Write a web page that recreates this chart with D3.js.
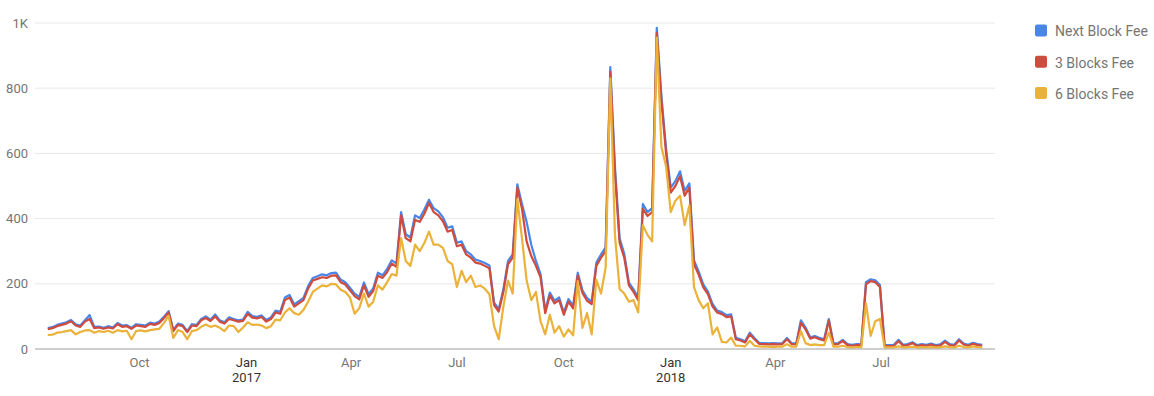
<!DOCTYPE html>
<html>
<head>
<meta charset="utf-8">
<script src="https://cdn.jsdelivr.net/npm/d3@7"></script>
<style>
  html, body { margin: 0; padding: 0; background: #fff; }
  svg { display: block; font-family: Roboto, "Liberation Sans", Arial, sans-serif; }
</style>
</head>
<body>
<svg id="chart" width="1154" height="396"></svg>
<script>
// ---- data (sampled every 4 days from 2016-07-14) ----
const startDate = "2016-07-14";
const stepDays = 4;

const nextBlockFee = [64,67,74,78,82,89,76,72,88,104,
 68,69,65,70,66,80,72,73,65,76,
 74,72,81,78,84,99,116,58,78,74,
 55,76,74,92,100,90,106,88,82,97,
 92,88,90,114,101,99,103,89,97,118,
 114,158,166,137,147,157,193,218,223,229,
 226,233,234,213,205,188,170,160,204,168,
 186,234,226,246,272,262,420,352,342,410,
 402,428,458,432,422,404,372,376,326,330,
 300,290,274,270,264,256,142,122,183,270,
 290,505,445,390,320,270,230,118,173,148,
 158,112,153,132,234,180,156,145,265,290,
 312,865,560,340,292,204,183,158,445,420,
 432,985,775,615,495,515,545,485,508,272,
 238,198,176,138,118,113,104,106,34,30,
 24,50,34,19,18,17,18,17,18,34,
 18,17,88,66,36,40,34,30,92,17,
 18,28,15,13,15,15,205,214,211,196,
 13,12,13,28,13,15,21,12,15,13,
 17,12,14,26,15,13,30,17,13,19,
 15,13];

const threeBlocksFee = [61,64,70,74,78,85,72,68,84,92,
 64,66,62,66,63,76,68,70,62,72,
 70,68,77,74,80,95,112,55,74,70,
 52,72,70,88,95,86,100,84,78,92,
 88,84,86,108,96,94,98,84,92,112,
 108,150,158,130,140,150,185,210,215,220,
 218,225,226,205,198,180,162,152,195,160,
 178,225,218,236,262,252,410,340,330,396,
 390,415,448,420,410,392,360,365,315,320,
 290,280,265,262,255,248,135,115,175,260,
 280,495,430,330,285,255,220,110,165,140,
 150,105,145,125,225,172,148,138,255,280,
 300,850,540,326,280,195,175,150,430,408,
 420,970,760,600,480,500,530,470,495,260,
 228,189,168,130,112,107,98,100,30,26,
 20,45,30,16,15,14,15,14,15,30,
 15,14,80,60,32,36,30,26,87,14,
 15,25,12,10,12,12,198,208,205,190,
 10,9,10,24,10,12,18,9,12,10,
 14,9,11,22,12,10,26,14,10,16,
 12,10];

const sixBlocksFee = [43,44,50,52,55,58,45,52,57,58,
 50,55,52,56,50,58,54,56,30,55,
 57,54,58,60,62,80,102,34,58,52,
 30,55,58,68,75,68,72,65,55,72,
 70,52,66,82,74,75,72,64,70,90,
 88,112,125,110,105,120,145,175,185,195,
 192,200,198,182,175,158,108,125,170,130,
 145,195,182,205,230,225,340,270,255,320,
 300,325,360,320,320,310,270,260,190,240,
 205,225,190,195,185,168,70,30,130,210,
 170,460,340,210,150,175,85,45,105,50,
 70,38,60,42,208,65,110,45,212,170,
 250,830,350,184,170,145,150,112,380,350,
 330,955,620,560,420,455,470,380,440,190,
 150,125,140,45,66,22,20,35,10,10,
 8,25,10,8,7,7,6,7,7,15,
 7,7,55,18,12,14,12,12,50,7,
 7,10,6,5,6,6,140,40,85,92,
 5,5,5,8,5,6,7,5,6,5,
 6,5,5,8,6,5,10,6,5,8,
 6,5];

const seriesNames = ["Next Block Fee", "3 Blocks Fee", "6 Blocks Fee"];
const seriesColors = ["#4a86e8", "#cf4b3d", "#ebb23a"];
const yTickValues = [0, 200, 400, 600, 800, 1000];
const yTickLabels = ["0", "200", "400", "600", "800", "1K"];
const xTickDates = ["2016-10-01","2017-01-01","2017-04-01","2017-07-01","2017-10-01","2018-01-01","2018-04-01","2018-07-01"];
const xTickLabels = ["Oct","Jan","Apr","Jul","Oct","Jan","Apr","Jul"];
const xTickYears  = ["","2017","","","","2018","",""];

// ---- layout ----
const svg = d3.select("#chart");
const plotLeft = 35, plotRight = 995, plotTop = 23, plotBottom = 349;

const start = new Date(startDate + "T00:00:00Z");
const dates = nextBlockFee.map((_, i) => d3.utcDay.offset(start, i * stepDays));

const x = d3.scaleUtc()
  .domain([new Date("2016-07-03T00:00:00Z"), new Date("2018-10-07T00:00:00Z")])
  .range([plotLeft, plotRight]);
const y = d3.scaleLinear().domain([0, 1000]).range([plotBottom, plotTop]);

// gridlines
svg.append("g").selectAll("line")
  .data(yTickValues.filter(v => v > 0))
  .join("line")
  .attr("x1", plotLeft).attr("x2", plotRight)
  .attr("y1", d => y(d)).attr("y2", d => y(d))
  .attr("stroke", "#e8e8e8").attr("stroke-width", 1);

// y labels
svg.append("g").selectAll("text")
  .data(yTickValues)
  .join("text")
  .attr("x", 28).attr("y", d => y(d)).attr("dy", "0.35em")
  .attr("text-anchor", "end")
  .attr("font-size", 13).attr("fill", "#757575")
  .text((d, i) => yTickLabels[i]);

// lines
const allSeries = [nextBlockFee, threeBlocksFee, sixBlocksFee];
const line = d3.line()
  .x((d, i) => x(dates[i]))
  .y(d => y(d));
allSeries.forEach((s, k) => {
  svg.append("path")
    .datum(s)
    .attr("fill", "none")
    .attr("stroke", seriesColors[k])
    .attr("stroke-width", 2.2)
    .attr("stroke-linejoin", "round")
    .attr("d", line);
});

// baseline
svg.append("line")
  .attr("x1", plotLeft).attr("x2", plotRight)
  .attr("y1", y(0)).attr("y2", y(0))
  .attr("stroke", "#9e9e9e").attr("stroke-width", 1);

// x labels
const xg = svg.append("g");
xTickDates.forEach((ds, i) => {
  const d = new Date(ds + "T00:00:00Z");
  const major = xTickYears[i] !== "";
  xg.append("text")
    .attr("x", x(d)).attr("y", 367)
    .attr("text-anchor", "middle")
    .attr("font-size", 13)
    .attr("fill", major ? "#333" : "#757575")
    .text(xTickLabels[i]);
  if (major) {
    xg.append("text")
      .attr("x", x(d)).attr("y", 382)
      .attr("text-anchor", "middle")
      .attr("font-size", 13)
      .attr("fill", "#333")
      .text(xTickYears[i]);
  }
});

// legend
const lg = svg.append("g");
seriesNames.forEach((n, i) => {
  const cy = 30.5 + i * 31.3;
  lg.append("rect")
    .attr("x", 1035).attr("y", cy - 6)
    .attr("width", 12).attr("height", 12)
    .attr("rx", 2).attr("ry", 2)
    .attr("fill", seriesColors[i]);
  lg.append("text")
    .attr("x", 1055).attr("y", cy + 1).attr("dy", "0.35em")
    .attr("font-size", 14).attr("fill", "#757575")
    .text(n);
});
</script>
</body>
</html>
